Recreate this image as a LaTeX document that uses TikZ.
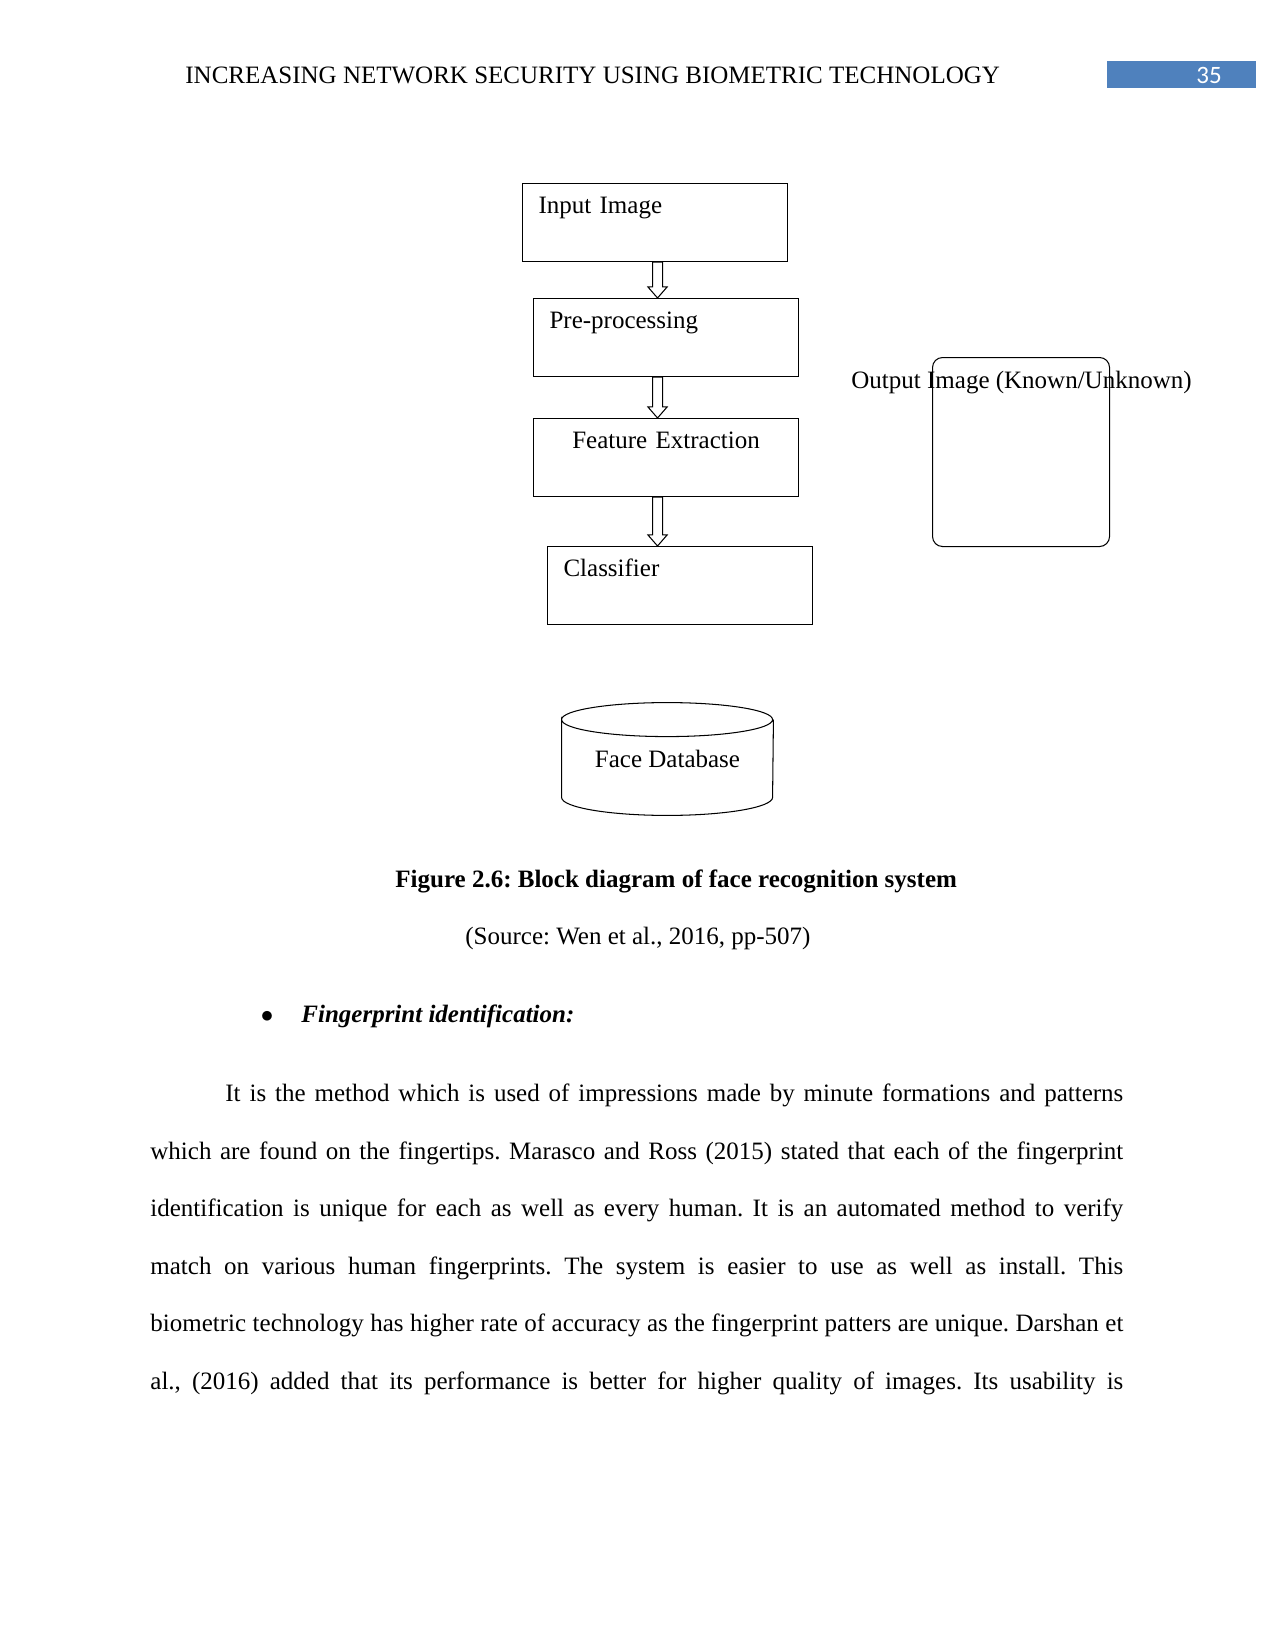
\documentclass[12pt,tikz,border=0pt]{standalone}
\usepackage{fontspec}
\setmainfont{Liberation Serif}
\newfontfamily\pagefont{Carlito}
\usetikzlibrary{calc}
\definecolor{hdrblue}{RGB}{79,129,189}
\frenchspacing

\begin{document}
\begin{tikzpicture}[x=0.48pt,y=-0.48pt,
 cell/.style={draw,line width=0.5pt,anchor=north west,text width=111.84pt,align=left,
  text height=14.4pt,text depth=23.04pt,inner xsep=7.68pt,inner ysep=0pt},
 txt/.style={anchor=base west,inner sep=0pt},
 pline/.style={anchor=base west,inner sep=0pt}]
\useasboundingbox (0,0) rectangle (1275,1651);
% running head
\node[txt] (head) at (185,84) {INCREASING NETWORK SECURITY USING BIOMETRIC TECHNOLOGY};
\node[fill=hdrblue,anchor=north west,minimum width=71.52pt,minimum height=12.96pt,inner sep=0pt] (pg) at (1107,61) {};
\node[anchor=base,inner sep=0pt,text=white,font=\pagefont] (pgno) at (1209,84) {35};
% blocks
\node[cell] (inp) at (522,183) {Input Image};
\node[cell] (pre) at (533,298) {Pre-processing};
\node[cell,align=center] (fex) at (533,418) {Feature Extraction};
\node[cell] (cls) at (547,546) {Classifier};
\foreach \a/\b/\s in {inp/pre/2.5,pre/fex/-8.5,fex/cls/-8.5}
 \draw[fill=white,line width=0.5pt] let \p1=($(\a.south)+(\s,0)$), \p2=(\b.north) in
  (\x1-2.4pt,\y1) -- (\x1-2.4pt,\y2+5.3pt) -- (\x1-4.6pt,\y2+5.3pt) -- (\x1,\y2)
  -- (\x1+4.6pt,\y2+5.3pt) -- (\x1+2.4pt,\y2+5.3pt) -- (\x1+2.4pt,\y1) -- cycle;
% output
\node[draw,line width=0.5pt,rounded corners=4.8pt,anchor=north west,minimum width=84.96pt,
 minimum height=90.72pt,inner sep=0pt] (out) at (932,357) {};
\node[txt] (outlab) at (851,388) {Output Image (Known/Unknown)};
% database
\node[minimum width=101.28pt,minimum height=53.76pt,inner sep=0pt] (db) at (667.5,759) {Face Database};
\draw[line width=0.5pt] ([yshift=-8.16pt]db.north west)
 arc[start angle=180,end angle=-180,x radius=50.64pt,y radius=8.16pt]
 -- ([yshift=8.64pt]db.south west) arc[start angle=180,end angle=360,x radius=50.64pt,y radius=8.64pt]
 -- ([yshift=-8.16pt]db.north east);
% caption and text
\node[txt,font=\bfseries] (cap) at (395,887) {Figure 2.6: Block diagram of face recognition system};
\node[txt] (src) at (465,944) {(Source: Wen et al., 2016, pp-507)};
\node[anchor=base,inner sep=0pt] (bul) at (267,1022) {$\bullet$};
\node[txt,font=\bfseries\itshape] (fp) at (301,1022) {Fingerprint identification:};
\node[pline] (p1) at (225,1101.5) {\makebox[431pt][s]{It is the method which is used of impressions made by minute formations and patterns}};
\foreach \row [count=\i from 2] in {
 {which are found on the fingertips. Marasco and Ross (2015) stated that each of the fingerprint},
 {identification is unique for each as well as every human. It is an automated method to verify},
 {match on various human fingerprints. The system is easier to use as well as install. This},
 {biometric technology has higher rate of accuracy as the fingerprint patters are unique. Darshan et},
 {al., (2016) added that its performance is better for higher quality of images. Its usability is}}
 \node[pline] (p\i) at (150,{1101.5+57.5*(\i-1)}) {\makebox[467pt][s]{\row}};
\end{tikzpicture}
\end{document}
